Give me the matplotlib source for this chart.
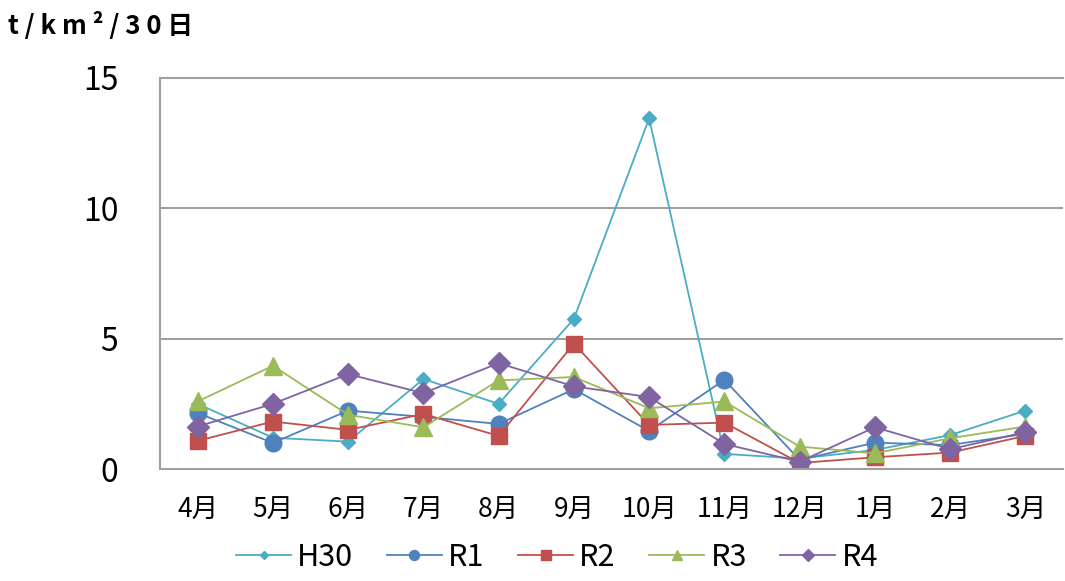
import matplotlib
matplotlib.use("Agg")
import matplotlib.pyplot as plt

months = ["4月", "5月", "6月", "7月", "8月", "9月", "10月", "11月", "12月", "1月", "2月", "3月"]
H30 = [2.5, 1.2, 1.05, 3.45, 2.5, 5.76, 13.45, 0.58, 0.4, 0.73, 1.3, 2.24]
R1 = [2.15, 1.0, 2.24, 2.0, 1.73, 3.06, 1.46, 3.42, 0.35, 1.01, 0.92, 1.35]
R2 = [1.08, 1.82, 1.5, 2.11, 1.27, 4.81, 1.69, 1.78, 0.23, 0.45, 0.63, 1.27]
R3 = [2.59, 3.96, 2.08, 1.6, 3.4, 3.53, 2.33, 2.59, 0.86, 0.6, 1.18, 1.63]
R4 = [1.63, 2.5, 3.64, 2.91, 4.06, 3.17, 2.76, 0.96, 0.28, 1.6, 0.76, 1.41]
series_names = ["H30", "R1", "R2", "R3", "R4"]
yticks = [0, 5, 10, 15]

plt.rcParams['font.family'] = ['Noto Sans CJK JP', 'DejaVu Sans']

fig = plt.figure(figsize=(10.65, 5.81), dpi=100)
ax = fig.add_axes([160/1065, 1-469/581, (1063-160)/1065, (469-78)/581])

styles = [
    dict(color="#4BACC6", marker="D", ms=7),
    dict(color="#4F81BD", marker="o", ms=12),
    dict(color="#C0504D", marker="s", ms=12),
    dict(color="#9BBB59", marker="^", ms=13),
    dict(color="#8064A2", marker="D", ms=11),
]
data = [H30, R1, R2, R3, R4]
x = list(range(len(months)))
for name, vals, st in zip(series_names, data, styles):
    ax.plot(x, vals, color=st["color"], lw=1.3, marker=st["marker"], ms=st["ms"],
            markerfacecolor=st["color"], markeredgecolor=st["color"], label=name)

ax.set_xlim(-0.5, len(months) - 0.5)
ax.set_ylim(0, 15)
ax.set_yticks(yticks)
ax.set_yticklabels([str(t) for t in yticks], fontsize=23)
ax.set_xticks(x)
ax.set_xticklabels(months, fontsize=19)
ax.tick_params(axis='both', length=0)
ax.tick_params(axis='y', pad=30)
ax.tick_params(axis='x', pad=20)
ax.grid(axis='y', color="#8c8c8c", lw=1.2)
ax.set_axisbelow(True)
for s in ax.spines.values():
    s.set_color("#a0a0a0")
    s.set_linewidth(1.5)
ax.spines['right'].set_visible(False)

fig.text(8/1065, 1-26/581, "t / k m ² / 3 0 日", fontsize=18.5, fontweight='bold', va='center', ha='left')

leg = fig.legend(loc='center', bbox_to_anchor=(557/1065, 1-557/581), ncol=5, frameon=False,
                 fontsize=22, handlelength=1.8, columnspacing=1.1, handletextpad=0.2,
                 markerscale=0.6)

fig.savefig("out.png", dpi=100)
